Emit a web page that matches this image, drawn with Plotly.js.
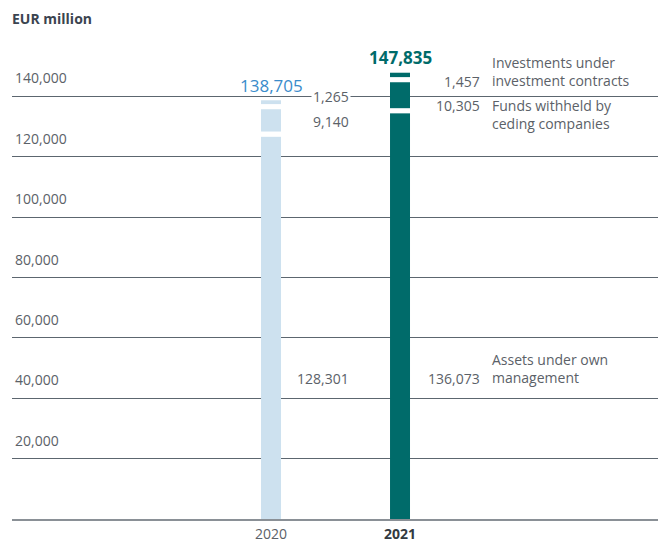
<!DOCTYPE html>
<html>
<head>
<meta charset="utf-8">
<script src="https://cdn.plot.ly/plotly-3.0.1.min.js"></script>
<style>
  body { margin: 0; background: #fff; }
  #chart { width: 661px; height: 543px; }
</style>
</head>
<body>
<div id="chart"></div>
<script>
// Balance sheet investments, EUR million
const years = ["2020", "2021"];
const ownManagement = [128301, 136073];
const fundsWithheld = [9140, 10305];
const investmentContracts = [1265, 1457];
const totals = [138705, 147835];
const segmentNames = ["Assets under own<br>management", "Funds withheld by<br>ceding companies", "Investments under<br>investment contracts"];
const yTicks = [20000, 40000, 60000, 80000, 100000, 120000, 140000];

const barColors = ["#cde1ef", "#006b6a"];
const textGrey = "#5b6168";
const font = "Open Sans, Noto Sans, sans-serif";
const GAP = 1700; // white separator between stacked segments (data units)
const BAR_W = 0.155;

// cumulative bases
const baseFunds = years.map((_, i) => ownManagement[i]);
const baseInv = years.map((_, i) => ownManagement[i] + fundsWithheld[i]);

function segment(values, base, name) {
    return {
        type: "bar",
        x: years,
        y: values,
        base: base,
        width: BAR_W,
        name: name,
        marker: { color: barColors },
        hoverinfo: "skip"
    };
}

// white gap bars eat into the top of the segment below
let gapTrace = {
    type: "bar",
    x: years.concat(years),
    y: [GAP, GAP, GAP, GAP],
    base: baseFunds.map(v => v - GAP).concat(baseInv.map(v => v - GAP)),
    width: BAR_W + 0.02,
    marker: { color: "#ffffff" },
    hoverinfo: "skip"
};

let traces = [
    segment(ownManagement, years.map(() => 0), segmentNames[0]),
    segment(fundsWithheld, baseFunds, segmentNames[1]),
    segment(investmentContracts, baseInv, segmentNames[2]),
    gapTrace
];

function fmt(v) {
    return v.toLocaleString("en-US");
}

// value labels to the right of each bar (y = label centre)
// category positions are given as index (0 = 2020, 1 = 2021)
let annotations = [];
let labelY2020 = [46700, 131800, 139800];
let labelY2021 = [46700, 137100, 144800];
let values2020 = [ownManagement[0], fundsWithheld[0], investmentContracts[0]];
let values2021 = [ownManagement[1], fundsWithheld[1], investmentContracts[1]];

for (let i = 0; i < 3; i++) {
    annotations.push({
        x: 0, y: labelY2020[i], xref: "x", yref: "y",
        text: fmt(values2020[i]), showarrow: false,
        xanchor: "right", yanchor: "middle", xshift: 80,
        bgcolor: i == 2 ? "#ffffff" : "rgba(0,0,0,0)",
        font: { family: font, size: 14, color: textGrey }
    });
    annotations.push({
        x: 1, y: labelY2021[i], xref: "x", yref: "y",
        text: fmt(values2021[i]), showarrow: false,
        xanchor: "right", yanchor: "middle", xshift: 82,
        font: { family: font, size: 14, color: textGrey }
    });
}

// category descriptions at the right
let nameY = [50000, 134000, 148100];
for (let i = 0; i < 3; i++) {
    annotations.push({
        x: 1, y: nameY[i], xref: "x", yref: "y",
        text: segmentNames[i], showarrow: false, align: "left",
        xanchor: "left", yanchor: "middle", xshift: 90,
        font: { family: font, size: 14, color: textGrey }
    });
}

// totals above bars
annotations.push({
    x: 0, y: totals[0], xref: "x", yref: "y",
    text: fmt(totals[0]), showarrow: false,
    yanchor: "bottom", yshift: 1,
    font: { family: font, size: 17, color: "#3a8ccb" }
});
annotations.push({
    x: 1, y: totals[1], xref: "x", yref: "y",
    text: "<b>" + fmt(totals[1]) + "</b>", showarrow: false,
    yanchor: "bottom", yshift: 2,
    font: { family: font, size: 17, color: "#006b6a" }
});

// unit title
annotations.push({
    x: 0, y: 1, xref: "paper", yref: "paper",
    text: "<b>EUR million</b>", showarrow: false,
    xanchor: "left", yanchor: "middle", yshift: 18, xshift: -2,
    font: { family: font, size: 14, color: "#3b4450" }
});

let layout = {
    width: 661,
    height: 543,
    margin: { l: 12, r: 3, t: 36, b: 24 },
    paper_bgcolor: "#ffffff",
    plot_bgcolor: "#ffffff",
    barmode: "overlay",
    showlegend: false,
    font: { family: font, size: 14, color: textGrey },
    xaxis: {
        type: "category",
        range: [-2.008, 3.0],
        tickvals: years,
        ticktext: ["2020", "<span style='color:#333a40'><b>2021</b></span>"],
        showgrid: false,
        zeroline: false,
        showline: true,
        linecolor: "#8a9096",
        linewidth: 1.5,
        ticks: "",
        ticklabelstandoff: 2,
        tickfont: { family: font, size: 14, color: textGrey },
        fixedrange: true
    },
    yaxis: {
        range: [0, 160000],
        tickvals: yTicks,
        ticktext: yTicks.map(fmt),
        ticklabelposition: "inside top",
        ticklabelshift: -8,
        showgrid: true,
        gridcolor: "#5c666f",
        gridwidth: 1.2,
        zeroline: false,
        showline: false,
        ticks: "",
        tickfont: { family: font, size: 14, color: textGrey },
        fixedrange: true
    },
    annotations: annotations
};

Plotly.newPlot("chart", traces, layout, { displayModeBar: false, staticPlot: true });
</script>
</body>
</html>
